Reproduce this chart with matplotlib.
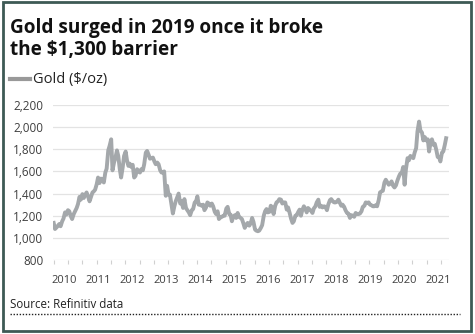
import numpy as np
import pandas as pd
import matplotlib
matplotlib.use('Agg')
import matplotlib.pyplot as plt
from matplotlib.patches import Rectangle
from matplotlib.lines import Line2D

# semi-monthly gold price ($/oz), Jan 2010 - May 2021 (two readings per month)
gold_2010 = [1135, 1080, 1095, 1110, 1125, 1105, 1150, 1175, 1230, 1210, 1250, 1240,
             1195, 1170, 1215, 1240, 1270, 1305, 1370, 1345, 1395, 1360, 1390, 1410]
gold_2011 = [1370, 1330, 1375, 1410, 1420, 1435, 1485, 1545, 1495, 1535, 1530, 1500,
             1590, 1625, 1790, 1830, 1890, 1610, 1680, 1720, 1790, 1740, 1620, 1545]
gold_2012 = [1640, 1740, 1780, 1700, 1650, 1670, 1640, 1660, 1545, 1560, 1620, 1600,
             1590, 1620, 1610, 1665, 1770, 1785, 1750, 1715, 1720, 1725, 1690, 1665]
gold_2013 = [1680, 1665, 1610, 1590, 1590, 1600, 1380, 1470, 1390, 1390, 1300, 1220,
             1285, 1330, 1370, 1400, 1310, 1330, 1270, 1350, 1270, 1250, 1230, 1205]
gold_2014 = [1250, 1260, 1320, 1330, 1375, 1300, 1300, 1290, 1300, 1250, 1275, 1320,
             1310, 1290, 1310, 1285, 1235, 1215, 1240, 1170, 1185, 1190, 1200, 1200]
gold_2015 = [1265, 1280, 1215, 1210, 1150, 1190, 1205, 1180, 1225, 1190, 1180, 1170,
             1130, 1090, 1120, 1135, 1110, 1130, 1180, 1145, 1075, 1065, 1060, 1065]
gold_2016 = [1090, 1115, 1200, 1240, 1260, 1230, 1235, 1290, 1275, 1215, 1290, 1320,
             1330, 1350, 1345, 1310, 1320, 1320, 1255, 1275, 1225, 1175, 1135, 1150]
gold_2017 = [1200, 1205, 1235, 1255, 1200, 1250, 1285, 1265, 1230, 1270, 1255, 1245,
             1225, 1265, 1285, 1320, 1345, 1280, 1290, 1275, 1285, 1280, 1250, 1300]
gold_2018 = [1340, 1350, 1330, 1320, 1320, 1325, 1345, 1320, 1290, 1300, 1280, 1250,
             1225, 1220, 1180, 1205, 1200, 1190, 1225, 1215, 1215, 1220, 1240, 1280]
gold_2019 = [1290, 1320, 1315, 1320, 1300, 1295, 1285, 1285, 1295, 1285, 1340, 1410,
             1420, 1425, 1500, 1525, 1500, 1480, 1490, 1510, 1470, 1455, 1475, 1515]
gold_2020 = [1555, 1580, 1590, 1640, 1480, 1620, 1720, 1700, 1740, 1730, 1720, 1770,
             1810, 1960, 2050, 1970, 1950, 1880, 1910, 1880, 1890, 1780, 1860, 1890]
gold_2021 = [1840, 1850, 1790, 1730, 1730, 1690, 1770, 1780, 1840, 1900]

gold = (gold_2010 + gold_2011 + gold_2012 + gold_2013 + gold_2014 + gold_2015 +
        gold_2016 + gold_2017 + gold_2018 + gold_2019 + gold_2020 + gold_2021)
dates = pd.date_range('2010-01-01', periods=len(gold), freq='SMS')
years = np.arange(2010, 2022)

# decimal years for the x axis
t = dates.year + (dates.dayofyear - 1) / 365.25

TEXT = '#3f3f3f'
LINE = '#a4a8ab'
FRAME = '#3d5a55'

plt.rcParams['font.family'] = ['Open Sans', 'DejaVu Sans']

fig = plt.figure(figsize=(4.75, 3.34), dpi=100)
ax = fig.add_axes([53 / 475, 74 / 334, 396 / 475, 155 / 334])

ax.plot(t, gold, color=LINE, lw=2.8, solid_joinstyle='round')

ax.set_ylim(800, 2200)
ax.set_xlim(2009.98, 2021.45)
ax.set_yticks(np.arange(800, 2201, 200))
ax.set_yticklabels([f'{v:,}' for v in range(800, 2201, 200)])
ax.grid(axis='y', color='#e3e3e3', lw=0.9)
ax.set_axisbelow(True)

# year labels sit between the small tick marks, as in the source chart
label_pos = 2010.31 + (years - 2010) * 0.983
ax.set_xticks(label_pos)
ax.set_xticklabels([str(y) for y in years])
ax.set_xticks(np.arange(2010.0, 2021.46, 0.4155), minor=True)
ax.tick_params(axis='x', which='major', length=0, pad=11, labelsize=8, colors=TEXT)
ax.tick_params(axis='x', which='minor', length=3, width=0.8, color='#d0d0d0')
ax.tick_params(axis='y', length=0, pad=7, labelsize=8.5, colors=TEXT)
for s in ax.spines.values():
    s.set_visible(False)

fig.text(10 / 475, 1 - 18 / 334, 'Gold surged in 2019 once it broke\nthe $1,300 barrier',
         ha='left', va='top', fontsize=13.7, fontweight='bold', color='#111111',
         linespacing=1.1)
fig.add_artist(Line2D([10 / 475, 30 / 475], [1 - 79 / 334] * 2, color='#999999', lw=3))
fig.text(33 / 475, 1 - 79 / 334, 'Gold ($/oz)', ha='left', va='center',
         fontsize=10.5, color='#222222')
fig.text(10 / 475, 1 - 304 / 334, 'Source: Refinitiv data', ha='left', va='center',
         fontsize=8.3, color='#222222')
fig.add_artist(Line2D([10 / 475, 460 / 475], [1 - 314 / 334] * 2, color='#222222',
                      lw=1, ls=(0, (1, 1.2))))
fig.add_artist(Rectangle((3 / 475, 3 / 334), 468 / 475, 329 / 334, fill=False,
                         ec=FRAME, lw=2, transform=fig.transFigure))

fig.savefig('out.png', dpi=100)
